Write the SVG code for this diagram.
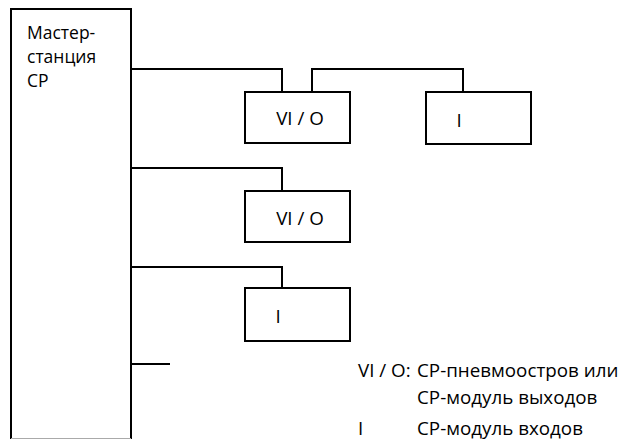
<svg xmlns="http://www.w3.org/2000/svg" width="621" height="439" viewBox="0 0 621 439">
<style>
.box{fill:#fff;stroke:#000;stroke-width:2}
.ln{fill:none;stroke:#000;stroke-width:2}
text{font-family:"Open Sans","Noto Sans","DejaVu Sans",sans-serif;font-size:18.8px;fill:#000}
.m{font-size:17.5px}
</style>
<rect width="621" height="439" fill="#fff"/>
<g id="connectors">
<path class="ln" d="M131 69 H282 V92"/>
<path class="ln" d="M312 92 V69 H463 V92"/>
<path class="ln" d="M131 168 H282 V191"/>
<path class="ln" d="M131 267 H282 V288"/>
<path class="ln" d="M131 364 H170"/>
</g>
<g id="master">
<path class="ln" d="M11 439 V9 H131 V439"/>
<line x1="11" y1="438.5" x2="131" y2="438.5" stroke="#aaa" stroke-width="1"/>
<text class="m" x="27" y="39">Мастер-</text>
<text class="m" x="27" y="63">станция</text>
<text class="m" x="27" y="87">CP</text>
</g>
<g id="vio1">
<rect class="box" x="245" y="92" width="105" height="51"/>
<text x="300" y="125" text-anchor="middle">VI / O</text>
</g>
<g id="i1">
<rect class="box" x="426" y="92" width="105" height="52"/>
<text x="459" y="127" text-anchor="middle">I</text>
</g>
<g id="vio2">
<rect class="box" x="245" y="191" width="105" height="51"/>
<text x="300" y="225" text-anchor="middle">VI / O</text>
</g>
<g id="i2">
<rect class="box" x="245" y="288" width="105" height="53"/>
<text x="278" y="323" text-anchor="middle">I</text>
</g>
<g id="legend">
<text x="358" y="377">VI / O:</text>
<text x="417" y="377">CP-пневмоостров или</text>
<text x="417" y="404">CP-модуль выходов</text>
<text x="358" y="435">I</text>
<text x="417" y="435">CP-модуль входов</text>
</g>
</svg>
